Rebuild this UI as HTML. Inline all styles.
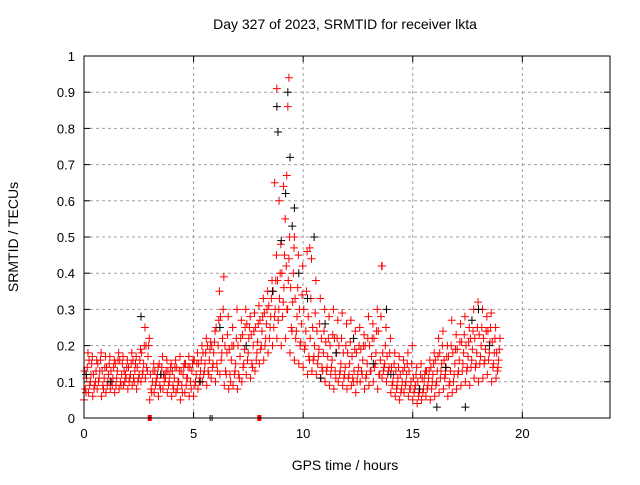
<!DOCTYPE html>
<html><head><meta charset="utf-8"><style>
body{margin:0;background:#fff;}
svg text{font-family:"Liberation Sans",sans-serif;font-size:13px;fill:#000;}
</style></head><body>
<svg id="chart" width="640" height="480" viewBox="0 0 640 480" xmlns="http://www.w3.org/2000/svg">
<rect width="640" height="480" fill="#fff"/>
<text x="345" y="29" text-anchor="middle" style="font-size:14px">Day 327 of 2023, SRMTID for receiver lkta</text>
<text x="345" y="470" text-anchor="middle" style="font-size:14px">GPS time / hours</text>
<text transform="translate(18,237) rotate(-90)" text-anchor="middle" style="font-size:14px">SRMTID / TECUs</text>
<g id="grid"></g><g id="axes"></g><g id="red"></g><g id="black"></g>
<rect x="84" y="56" width="526" height="362" fill="none" stroke="#000" stroke-width="1"/>
</svg>
<script>
const xTicks=[0,5,10,15,20];
const yTicks=[0,0.1,0.2,0.3,0.4,0.5,0.6,0.7,0.8,0.9,1];
const yTickLabels=["0","0.1","0.2","0.3","0.4","0.5","0.6","0.7","0.8","0.9","1"];
const tStart=0, tStep=0.2;
const redLow=[.05,.07,.06,.08,.06,.07,.08,.07,.08,.09,.08,.09,.08,.10,.11,.05,.07,.06,.08,.07,.06,.07,.05,.07,.06,.06,.08,.10,.09,.11,.10,.12,.09,.08,.09,.08,.10,.12,.11,.13,.15,.16,.18,.20,.22,.20,.22,.18,.16,.15,.14,.12,.13,.12,.11,.10,.09,.08,.10,.09,.08,.09,.07,.10,.08,.09,.10,.08,.11,.10,.07,.06,.05,.07,.06,.05,.04,.05,.06,.05,.06,.07,.08,.06,.07,.08,.09,.10,.09,.11,.10,.11,.12,.10,.11];
const redA=[.08,.09,.08,.10,.09,.09,.10,.09,.10,.10,.10,.11,.10,.12,.14,.08,.09,.09,.10,.09,.09,.08,.09,.09,.10,.09,.10,.12,.13,.14,.15,.16,.13,.12,.12,.12,.14,.16,.15,.16,.19,.20,.22,.25,.27,.28,.30,.25,.22,.20,.19,.17,.16,.15,.14,.13,.12,.13,.12,.11,.11,.11,.10,.13,.11,.13,.14,.12,.13,.12,.09,.08,.07,.09,.08,.07,.06,.07,.08,.08,.09,.11,.11,.09,.10,.12,.13,.13,.14,.14,.15,.15,.16,.14,.13];
const redC=[.07,.10,.09,.11,.08,.10,.09,.11,.09,.12,.11,.10,.11,.13,.13,.07,.10,.08,.12,.10,.08,.10,.07,.11,.08,.10,.11,.13,.12,.15,.13,.18,.12,.10,.13,.11,.15,.18,.14,.18,.20,.22,.25,.28,.30,.32,.30,.24,.24,.21,.20,.16,.17,.17,.13,.14,.14,.11,.13,.12,.12,.10,.12,.12,.12,.13,.15,.12,.14,.13,.10,.09,.08,.10,.08,.08,.07,.08,.09,.10,.10,.13,.12,.10,.12,.13,.15,.14,.16,.15,.17,.16,.18,.15,.14];
const redMid=[.11,.12,.10,.13,.11,.12,.11,.13,.12,.11,.12,.13,.12,.15,.17,.10,.11,.12,.11,.12,.11,.10,.12,.11,.13,.12,.13,.15,.16,.18,.20,.22,.18,.16,.15,.17,.19,.22,.20,.21,.24,.26,.28,.30,.33,.36,.38,.32,.28,.26,.24,.22,.20,.19,.18,.17,.16,.18,.15,.14,.15,.13,.14,.16,.15,.17,.18,.16,.15,.14,.12,.11,.10,.12,.10,.09,.08,.10,.11,.12,.13,.15,.14,.13,.15,.16,.18,.17,.19,.18,.20,.19,.21,.18,.16];
const redD=[.13,.16,.12,.15,.13,.14,.13,.15,.16,.13,.14,.16,.14,.18,.20,.12,.13,.15,.12,.13,.13,.14,.13,.15,.14,.16,.15,.18,.20,.20,.25,.28,.20,.19,.20,.20,.23,.26,.23,.25,.27,.29,.31,.35,.38,.40,.42,.36,.33,.30,.30,.28,.25,.24,.22,.21,.20,.22,.20,.18,.18,.17,.18,.19,.20,.20,.22,.24,.18,.17,.14,.13,.12,.14,.13,.11,.10,.11,.13,.14,.16,.18,.16,.17,.18,.19,.21,.20,.22,.22,.23,.22,.24,.21,.18];
const redB=[.14,.15,.13,.16,.14,.15,.14,.16,.15,.14,.15,.15,.16,.20,.20,.13,.12,.14,.13,.14,.14,.13,.14,.14,.15,.15,.16,.18,.19,.21,.27,.30,.23,.20,.22,.22,.25,.25,.24,.26,.28,.30,.33,.38,.40,.45,.44,.40,.36,.34,.35,.33,.29,.26,.24,.22,.23,.22,.22,.20,.21,.19,.20,.20,.22,.22,.24,.28,.20,.18,.15,.14,.13,.15,.15,.12,.12,.12,.13,.15,.17,.20,.17,.20,.19,.21,.23,.21,.24,.25,.25,.24,.25,.22,.19];
const redHigh=[.18,.17,.16,.18,.17,.17,.16,.18,.17,.16,.18,.17,.19,.25,.22,.15,.14,.17,.16,.15,.16,.17,.15,.17,.16,.18,.20,.22,.21,.24,.35,.39,.28,.25,.30,.27,.30,.28,.29,.31,.33,.35,.38,.45,.48,.55,.50,.47,.45,.42,.46,.44,.38,.33,.30,.28,.30,.27,.29,.26,.27,.24,.25,.23,.28,.26,.30,.42,.25,.22,.18,.17,.16,.18,.20,.14,.15,.13,.16,.18,.22,.24,.20,.27,.23,.26,.28,.25,.30,.32,.30,.28,.29,.25,.22];
const redSpikeT=[8.7,8.8,9.1,9.25,9.3,9.35,13.6,10.3,8.9,9.6];
const redSpikeV=[.65,.91,.64,.67,.86,.94,.42,.47,.60,.50];
const blackT=[8.8,8.85,9.3,9.4,9.2,9.6,10.5,2.6,17.7,16.1,17.4,9.5,8.6,9.0,10.2,10.8,11.5,12.3,13.2,14.0,15.3,16.5,18.0,18.5,6.2,7.4,3.5,1.2,0.1,5.3,11.0,13.8,9.8];
const blackV=[.86,.79,.90,.72,.62,.58,.50,.28,.27,.03,.03,.53,.35,.49,.33,.11,.18,.22,.15,.12,.08,.14,.30,.20,.25,.20,.12,.10,.12,.10,.26,.30,.40];
const redTicksT=[3.0,8.0];
const blackTicksT=[5.8];
const X0=84,X1=610,Y0=418,Y1=56,XMAX=24;
const xs=t=>X0+(X1-X0)*t/XMAX, ys=v=>Y0-(Y0-Y1)*v;
const NS="http://www.w3.org/2000/svg";
function mk(tag,attrs,parent){const e=document.createElementNS(NS,tag);for(const k in attrs)e.setAttribute(k,attrs[k]);parent.appendChild(e);return e;}
const grid=document.getElementById('grid'),axes=document.getElementById('axes');
xTicks.forEach((t,i)=>{const x=xs(t);
 if(t>0){const g=mk('line',{x1:x,x2:x,y1:Y0,y2:Y1,stroke:'#a0a0a0','stroke-dasharray':'3,3'},grid);
 
 }
 mk('line',{x1:x,x2:x,y1:Y0,y2:Y0-6,stroke:'#000'},axes);mk('line',{x1:x,x2:x,y1:Y1,y2:Y1+6,stroke:'#000'},axes);
 const l=mk('text',{x:x,y:Y0+20,'text-anchor':'middle'},axes);l.textContent=t;
 
 });
yTicks.forEach((v,i)=>{const y=ys(v);
 if(v>0&&v<1){const g=mk('line',{x1:X0,x2:X1,y1:y,y2:y,stroke:'#a0a0a0','stroke-dasharray':'3,3'},grid);
 
 }
 mk('line',{x1:X0,x2:X0+6,y1:y,y2:y,stroke:'#000'},axes);mk('line',{x1:X1,x2:X1-6,y1:y,y2:y,stroke:'#000'},axes);
 const l=mk('text',{x:X0-9,y:y+5,'text-anchor':'end'},axes);l.textContent=yTickLabels[i];
 
 });
function plus(t,v,col,parent,name){const x=xs(t),y=ys(v);
 const p=mk('path',{d:`M${x-4},${y}h8M${x},${y-4}v8`,stroke:col,'stroke-width':1,fill:'none'},parent);
 
 }
const red=document.getElementById('red'),black=document.getElementById('black');
const series=[[redLow,0],[redD,0.03],[redA,0.06],[redC,0.09],[redMid,0.12],[redB,0.15],[redHigh,0.18]];
series.forEach(([arr,off])=>arr.forEach((v,i)=>plus(tStart+i*tStep+off,v,'#f00',red,'red-point')));
redSpikeT.forEach((t,i)=>plus(t,redSpikeV[i],'#f00',red,'red-point'));
blackT.forEach((t,i)=>plus(t,blackV[i],'#000',black,'black-point'));
redTicksT.forEach(t=>{const r=mk('rect',{x:xs(t)-2,y:Y0-3,width:4,height:6,fill:'#f00'},red);
 
 });
blackTicksT.forEach(t=>{const r=mk('path',{d:`M${xs(t)-1},${Y0-3}v6M${xs(t)+1},${Y0-3}v6`,stroke:'#000'},black);
 
 });
</script>
</body></html>
